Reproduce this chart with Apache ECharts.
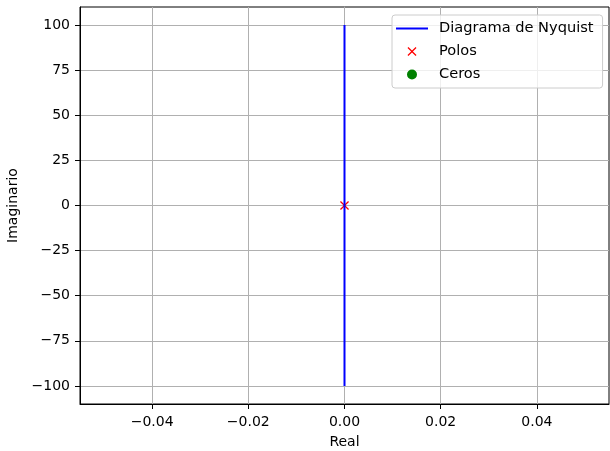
<!DOCTYPE html>
<html><head><meta charset="utf-8">
<script src="https://cdn.jsdelivr.net/npm/echarts@6/dist/echarts.min.js"></script>
<style>html,body{margin:0;padding:0;background:#fff}#c{width:610px;height:451px}</style>
</head><body><div id="c"></div>
<script>
const nyqReal = [0, 0];
const nyqImag = [-100, 100];
const poleReal = [0];
const poleImag = [0];
const zeroReal = [];
const zeroImag = [];
const xTicks = [-0.04, -0.02, 0, 0.02, 0.04];
const yTicks = [-100, -75, -50, -25, 0, 25, 50, 75, 100];
const xRange = [-0.055, 0.055];
const yRange = [-110, 110];
const seriesNames = ['Diagrama de Nyquist', 'Polos', 'Ceros'];

const FONT = 'DejaVu Sans';
const zip = (a, b) => a.map((v, i) => [v, b[i]]);
const minus = s => s.replace('-', '\u2212');
const XPATH = 'path://M0,1L1,0L5,4L9,0L10,1L6,5L10,9L9,10L5,6L1,10L0,9L4,5Z';
const BOX = 'M0,0L0.01,0ZM32,14L31.99,14Z';
const LEG_X = 'path://' + BOX + 'M11.5,3.4L12.4,2.5L16,6.1L19.6,2.5L20.5,3.4L16.9,7L20.5,10.6L19.6,11.5L16,7.9L12.4,11.5L11.5,10.6L15.1,7Z';
const LEG_O = 'path://' + BOX + 'M11,7A5,5 0 1 0 21,7A5,5 0 1 0 11,7Z';
const LEG_L = 'path://' + BOX + 'M0,6H32V8H0Z';

const chart = echarts.init(document.getElementById('c'), null, {renderer: 'canvas'});
chart.setOption({
  animation: false,
  backgroundColor: '#fff',
  grid: {left: 80, right: 1, top: 7, bottom: 47, show: true, borderColor: '#000', borderWidth: 1,
    containLabel: false, outerBoundsMode: 'none'},
  xAxis: {
    type: 'value', min: xRange[0], max: xRange[1],
    name: 'Real', nameLocation: 'middle', nameGap: 31,
    nameTextStyle: {fontFamily: FONT, fontSize: 14, color: '#000'},
    axisLine: {onZero: false, lineStyle: {color: '#000', width: 1}},
    axisTick: {show: true, length: 5, customValues: xTicks, lineStyle: {color: '#000', width: 1}},
    axisLabel: {customValues: xTicks, margin: 11, fontFamily: FONT, fontSize: 14, color: '#000',
      formatter: v => minus(Number(v).toFixed(2))},
    splitLine: {show: true, lineStyle: {color: '#b0b0b0', width: 1}}
  },
  yAxis: {
    type: 'value', min: yRange[0], max: yRange[1],
    name: 'Imaginario', nameLocation: 'middle', nameGap: 56,
    nameTextStyle: {fontFamily: FONT, fontSize: 14, color: '#000'},
    axisLine: {onZero: false, show: true, lineStyle: {color: '#000', width: 1}},
    axisTick: {show: true, length: 5, customValues: yTicks, lineStyle: {color: '#000', width: 1}},
    axisLabel: {customValues: yTicks, margin: 10, fontFamily: FONT, fontSize: 14, color: '#000',
      formatter: v => minus(String(v))},
    splitLine: {show: true, lineStyle: {color: '#b0b0b0', width: 1}}
  },
  legend: {
    orient: 'vertical', left: 392, top: 15,
    padding: [6, 9, 6, 4], itemGap: 8, itemWidth: 32, itemHeight: 14,
    backgroundColor: 'rgba(255,255,255,0.8)', borderColor: '#cccccc', borderWidth: 1, borderRadius: 3,
    textStyle: {fontFamily: FONT, fontSize: 14.6, color: '#000', padding: [0, 0, 0, 6]},
    data: [
      {name: seriesNames[0], icon: LEG_L, itemStyle: {color: '#0000ff', opacity: 1}},
      {name: seriesNames[1], icon: LEG_X, itemStyle: {color: '#ff0000', opacity: 1}},
      {name: seriesNames[2], icon: LEG_O, itemStyle: {color: '#008000', opacity: 1}}
    ]
  },
  series: [
    {name: seriesNames[0], type: 'line', data: zip(nyqReal, nyqImag), showSymbol: false, symbol: 'none',
      lineStyle: {color: '#0000ff', width: 2}, itemStyle: {color: '#0000ff'}},
    {name: seriesNames[1], type: 'scatter', data: zip(poleReal, poleImag), symbol: XPATH, symbolSize: 9,
      itemStyle: {color: '#ff0000', opacity: 1}},
    {name: seriesNames[2], type: 'scatter', data: zip(zeroReal, zeroImag), symbol: 'circle', symbolSize: 9,
      itemStyle: {color: '#008000', opacity: 1}}
  ]
});
</script></body></html>
